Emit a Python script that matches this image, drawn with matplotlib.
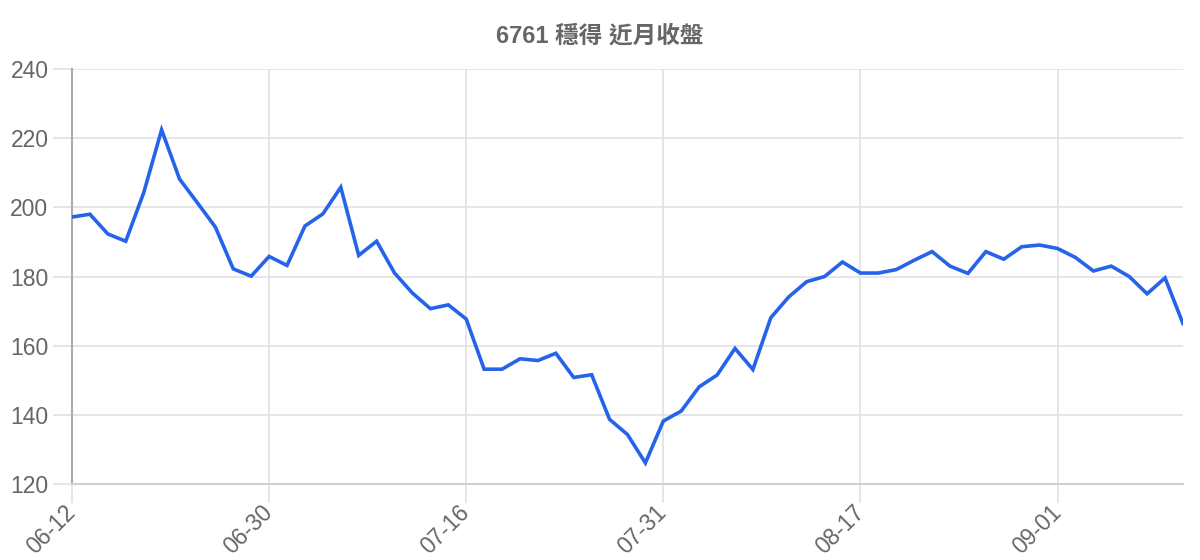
import matplotlib
matplotlib.use("Agg")
import matplotlib.pyplot as plt

plt.rcParams['font.family'] = ['Liberation Sans', 'Noto Sans CJK TC', 'DejaVu Sans']

title = "6761 穩得 近月收盤"

# closing prices, one per trading day
close_prices = [
    197.2, 198.0, 192.3, 190.2, 204.2, 222.4, 208.2, 201.3, 194.3, 182.2,
    180.1, 185.8, 183.2, 194.6, 198.1, 205.8, 186.1, 190.2, 181.0, 175.2,
    170.7, 171.8, 167.7, 153.2, 153.2, 156.2, 155.7, 157.8, 150.8, 151.6,
    138.7, 134.3, 126.1, 138.2, 141.1, 148.1, 151.5, 159.2, 153.1, 168.1,
    174.1, 178.5, 180.0, 184.2, 181.0, 181.0, 182.0, 184.7, 187.2, 183.0,
    180.9, 187.2, 185.0, 188.6, 189.1, 188.1, 185.5, 181.6, 183.0, 180.0,
    175.0, 179.6, 166.4,
]
tick_positions = [0, 11, 22, 33, 44, 55]
tick_labels = ["06-12", "06-30", "07-16", "07-31", "08-17", "09-01"]
y_ticks = [120, 140, 160, 180, 200, 220, 240]

grid_color = "#e2e2e2"
text_color = "#666666"

fig = plt.figure(figsize=(12, 5.6), dpi=100)
ax = fig.add_axes([0.06, 0.1357, 0.9258, 0.7411])

ax.plot(range(len(close_prices)), close_prices, color="#2563eb", linewidth=2.6,
        solid_joinstyle="miter", zorder=3)

ax.set_xlim(0, len(close_prices) - 1)
ax.set_ylim(120, 240)
ax.set_yticks(y_ticks)
ax.set_xticks(tick_positions)
ax.set_xticklabels(tick_labels, rotation=45, ha="right", va="center",
                   rotation_mode="anchor")

ax.grid(True, color=grid_color, linewidth=1.2, zorder=0)
ax.tick_params(axis="both", length=14, width=1.2, color=grid_color,
               labelcolor=text_color, labelsize=16.5, pad=3)
ax.tick_params(axis="x", pad=4)

for side in ["top", "right"]:
    ax.spines[side].set_visible(False)
ax.spines["left"].set_color("#aaaaaa")
ax.spines["left"].set_linewidth(1.5)
ax.spines["bottom"].set_color("#d0d0d0")
ax.spines["bottom"].set_linewidth(1.5)

fig.text(0.5, 0.935, title, ha="center", va="center", fontsize=17,
         fontweight="bold", color=text_color)

plt.savefig("out.png", dpi=100)
plt.close()
